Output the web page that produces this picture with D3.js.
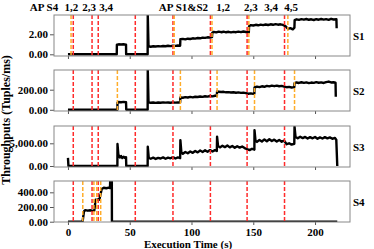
<!DOCTYPE html>
<html>
<head>
<meta charset="utf-8">
<script src="https://cdn.jsdelivr.net/npm/d3@7"></script>
<style>
  body { margin: 0; background: #fff; }
  svg text { font-family: "Liberation Serif", "Times New Roman", serif; font-weight: bold; }
</style>
</head>
<body>
<svg id="chart" width="374" height="249"></svg>
<script>
// stream names and y tick values
const streams = ["S1", "S2", "S3", "S4"];
const yTicks = [[0, 2], [0, 200], [0, 5000], [0, 200, 400]];
const yDomains = [[-0.17, 3.93], [-12, 396], [-220, 8810], [-4, 554]];
const xTicks = [0, 50, 100, 150, 200];

// red markers: shown on every panel
const redMarks = [4.3, 19.5, 24.5, 54.5, 85, 115.3, 145, 175.3];
// orange markers: per panel
const orangeMarks = [
  [2.5, 86, 116.6, 146.4, 178],
  [40, 91, 120.7, 151, 183.4],
  [],
  [12, 21, 23.3, 26.5]
];

// annotation labels at the top (time they sit over)
const topLabels = [
  ["AP S4", -19.4], ["1,2", 2.8], ["2,3", 17.2], ["3,4", 30.8],
  ["AP S1&S2", 93.5], ["1,2", 125.5], ["2,3", 148], ["3,4", 164.4], ["4,5", 180.6]
];

// throughput samples [time (s), value]
const s1 = [
  [0,0],[39.5,0],[39.6,0.96],[41,1.0],[43,0.98],[45,1.0],[47,0.97],[47.1,0],[64.5,0],[64.6,3.95],[65.2,0.8],
  [67,0.76],[69,0.8],[71,0.78],[73,0.82],[75,0.79],[77,0.83],[79,0.8],[81,0.85],[83,0.82],[85,0.86],[87,0.84],[89,0.88],[90.8,0.86],
  [91,1.5],[93,1.54],[95,1.49],[97,1.56],[99,1.53],[101,1.6],[103,1.57],[105,1.63],[107,1.6],[109,1.67],[111,1.64],[113,1.7],[115,1.68],[116.6,1.72],
  [116.8,2.16],[118,2.24],[120,2.19],[122,2.27],[124,2.21],[126,2.26],[128,2.2],[130,2.25],[132,2.19],[134,2.24],[136,2.21],[138,2.27],[140,2.22],[142,2.28],[144,2.23],[146.4,2.2],
  [146.6,2.8],[148,2.92],[150,2.88],[152,2.95],[154,2.9],[156,2.97],[158,2.92],[160,2.98],[162,2.93],[164,3.0],[166,2.95],[168,3.02],[170,2.96],[172,3.0],[174,2.94],[176,2.82],[178,2.55],[180,2.62],[182,2.5],[183.3,2.66],
  [183.5,3.42],[185,3.5],[187,3.44],[189,3.52],[191,3.46],[193,3.53],[195,3.45],[197,3.5],[199,3.43],[201,3.51],[203,3.46],[205,3.53],[207,3.47],[209,3.52],[211,3.45],[213,3.55],[215,3.48],[217.3,3.5],[217.5,2.6]
];
const s2 = [
  [0,0],[40,0],[40.1,70],[41,78],[43,75],[45,79],[47,76],[47.2,0],[64.5,0],[64.6,400],[65.2,74],
  [67,70],[69,73],[71,69],[73,72],[75,70],[77,74],[79,71],[81,73],[83,70],[85,74],[87,71],[89,73],[90.8,72],
  [91,124],[93,120],[95,126],[97,122],[99,128],[101,124],[103,130],[105,127],[107,132],[109,129],[111,135],[113,131],[115,137],[117,134],[119,140],[120.5,138],
  [120.7,182],[122,180],[124,177],[126,179],[128,174],[130,176],[132,172],[134,175],[136,170],[138,173],[140,168],[142,171],[144,166],[146,160],[148,163],[150,158],[150.9,162],
  [151,222],[153,230],[155,226],[157,234],[159,229],[161,238],[163,233],[165,240],[167,235],[169,241],[171,234],[173,238],[175,230],[177,225],[179,228],[181,222],[183.2,226],
  [183.4,266],[185,272],[187,267],[189,274],[191,268],[193,273],[195,266],[197,271],[199,268],[201,275],[203,269],[205,273],[207,267],[209,276],[211,281],[213,272],[215,274],[216.6,270],[216.8,130]
];
const s3 = [
  [0,1800],[0.4,0],[40,0],[40.1,4850],[40.8,2500],[42,1900],[43,2200],[44,1750],[45,2050],[46,1800],[47,1950],[47.2,0],[64.5,0],[64.6,4250],[65.4,1800],
  [67,1600],[69,1850],[71,1550],[73,1800],[75,1650],[77,1900],[79,1600],[81,1850],[83,1700],[85,1950],[87,1650],[89,1900],[90.8,1750],
  [91,5700],[91.8,3000],[93,2700],[95,3100],[97,2800],[99,3200],[101,2900],[103,3300],[105,3000],[107,3400],[109,3100],[111,3450],[113,3150],[115,3500],[117,3200],[119,3500],[120.5,3300],
  [120.7,6450],[121.5,4400],[123,4100],[125,4450],[127,4150],[129,4500],[131,4100],[133,4400],[135,4000],[137,4350],[139,4050],[141,4300],[143,3950],[145,3700],[147,3500],[149,3800],[150.9,3600],
  [151,7900],[151.8,5600],[153,5300],[155,5750],[157,5400],[159,5850],[161,5450],[163,5900],[165,5500],[167,5800],[169,5400],[171,5750],[173,5350],[175,5600],[177,4800],[179,5000],[181,4700],[183.2,4900],
  [183.4,8650],[184.2,6400],[186,6100],[188,6450],[190,6150],[192,6400],[194,6050],[196,6350],[198,6100],[200,6400],[202,6000],[204,6300],[206,6050],[208,6350],[210,6100],[212,6300],[214,6000],[216,6200],[217.2,5800],[218,0]
];
const s4 = [
  [0,0],[11.8,0],[13,140],[14,158],[16,150],[18,156],[20,148],[21.3,152],[22.4,300],[23.5,296],[24.5,305],[25.4,300],[26.5,380],[27.3,445],
  [29,462],[31,455],[33,464],[34,458],[34.2,560],[35.5,560],[35.6,0],[218,0]
];
const series = [s1, s2, s3, s4];

const panelTops = [15, 70, 126, 181];
const panelH = 41;
const left = 54, right = 350;

const svg = d3.select("#chart");

const x = d3.scaleLinear()
  .domain([-11.3, 228.3])
  .range([left, right]);

const fmt = d3.format(",.2f");

streams.forEach((name, i) => {
  const top = panelTops[i];
  const y = d3.scaleLinear()
    .domain(yDomains[i])
    .range([top + panelH, top]);

  const g = svg.append("g");

  g.append("clipPath").attr("id", "clip" + i)
    .append("rect")
    .attr("x", left).attr("y", top)
    .attr("width", right - left).attr("height", panelH);

  // bottom ticks
  const xa = g.append("g")
    .attr("transform", `translate(0,${top + panelH})`)
    .call(d3.axisBottom(x).tickValues(xTicks).tickSize(3)
      .tickFormat(i === streams.length - 1 ? d3.format("d") : ""));
  xa.select(".domain").remove();
  xa.selectAll("line").attr("stroke", "#555");
  xa.selectAll("text").attr("font-size", 11).attr("fill", "#000");

  const ya = g.append("g")
    .attr("transform", `translate(${left},0)`)
    .call(d3.axisLeft(y).tickValues(yTicks[i]).tickSize(4).tickPadding(2).tickFormat(fmt));
  ya.select(".domain").remove();
  ya.selectAll("line").attr("stroke", "#555");
  ya.selectAll("text").attr("font-size", 11).attr("fill", "#000");

  const line = d3.line()
    .x(d => x(d[0]))
    .y(d => y(d[1]));

  g.append("path")
    .datum(series[i])
    .attr("clip-path", `url(#clip${i})`)
    .attr("d", line)
    .attr("fill", "none")
    .attr("stroke", "#000")
    .attr("stroke-width", 2.4)
    .attr("stroke-linejoin", "round");

  g.selectAll(".red")
    .data(redMarks)
    .enter().append("line")
    .attr("x1", d => x(d)).attr("x2", d => x(d))
    .attr("y1", top).attr("y2", top + panelH)
    .attr("stroke", "#ff2b2b")
    .attr("stroke-width", 1.5)
    .attr("stroke-dasharray", "4,2");

  g.selectAll(".orange")
    .data(orangeMarks[i])
    .enter().append("line")
    .attr("x1", d => x(d)).attr("x2", d => x(d))
    .attr("y1", top).attr("y2", top + panelH)
    .attr("stroke", "#ffad2a")
    .attr("stroke-width", 1.5)
    .attr("stroke-dasharray", "4,2");

  g.append("rect")
    .attr("x", left).attr("y", top)
    .attr("width", right - left).attr("height", panelH)
    .attr("fill", "none")
    .attr("stroke", "#888")
    .attr("stroke-width", 1);

  g.append("text")
    .attr("x", right + 3)
    .attr("y", top + panelH / 2 + 4)
    .attr("font-size", 11)
    .text(name);
});

svg.selectAll(".top-label")
  .data(topLabels)
  .enter().append("text")
  .attr("x", d => x(d[1]))
  .attr("y", 11)
  .attr("text-anchor", "middle")
  .attr("font-size", 11)
  .text(d => d[0]);

svg.append("text")
  .attr("transform", "translate(10,120) rotate(-90)")
  .attr("text-anchor", "middle")
  .attr("font-size", 12)
  .text("Throughputs (Tuples/ms)");

svg.append("text")
  .attr("x", 188)
  .attr("y", 248)
  .attr("text-anchor", "middle")
  .attr("font-size", 11)
  .text("Execution Time (s)");
</script>
</body>
</html>
